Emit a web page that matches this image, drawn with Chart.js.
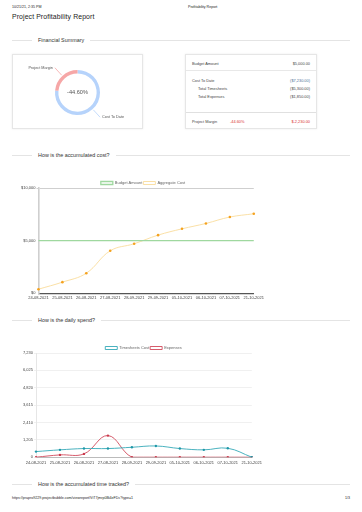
<!DOCTYPE html>
<html>
<head>
<meta charset="utf-8">
<script src="https://cdn.jsdelivr.net/npm/chart.js@4"></script>
<style>
  body { margin: 0; background: #fff; font-family: "Liberation Sans", Arial, sans-serif; color: #333; }
  .abs { position: absolute; white-space: nowrap; }
  .hdr { font-size: 3.6px; color: #222; }
  .title { font-size: 6.9px; color: #222; letter-spacing: 0.1px; }
  .sect { position: absolute; left: 12px; width: 338px; display: flex; align-items: center; font-size: 5.4px; color: #333; }
  .sect .ln { height: 1px; background: #e4e4e4; }
  .sect span { margin: 0 6px; }
  .card { position: absolute; border: 1px solid #e6e6e6; box-shadow: 0 0 2px rgba(0,0,0,0.08); background: #fff; }
  .row { position: absolute; left: 6px; right: 6px; font-size: 3.9px; color: #444; }
  .row .v { position: absolute; right: 0; top: 0; }
  .sep { position: absolute; left: 0; right: 0; height: 1px; background: #e8e8e8; }
</style>
</head>
<body>
<div class="abs hdr" style="left:12px;top:5px">10/21/21, 2:35 PM</div>
<div class="abs hdr" style="left:188px;top:5px">Profitability Report</div>
<div class="abs title" style="left:12px;top:13px">Project Profitability Report</div>

<div class="sect" style="top:37px"><div class="ln" style="width:20px"></div><span>Financial Summary</span><div class="ln" style="flex:1"></div></div>

<div class="card" style="left:12px;top:54px;width:129px;height:73px">
  <canvas id="marginChart"></canvas>
</div>

<div class="card" style="left:185px;top:54px;width:130px;height:73px">
  <div class="row" style="top:5.5px">Budget Amount<span class="v">$5,000.00</span></div>
  <div class="sep" style="top:15px"></div>
  <div class="row" style="top:22.5px">Cost To Date<span class="v" style="color:#4a6f96">($7,230.00)</span></div>
  <div class="row" style="top:30.5px;left:12px">Total Timesheets<span class="v">($5,300.00)</span></div>
  <div class="row" style="top:38.5px;left:12px">Total Expenses<span class="v">($1,850.00)</span></div>
  <div class="sep" style="top:57px;background:#e0e0e0"></div>
  <div class="row" style="top:64px">Project Margin<span style="position:absolute;left:38px;color:#d9302f">-44.60%</span><span class="v" style="color:#d9302f">$-2,230.00</span></div>
</div>

<div class="sect" style="top:152px"><div class="ln" style="width:20px"></div><span>How is the accumulated cost?</span><div class="ln" style="flex:1"></div></div>
<div class="abs" style="left:20px;top:180px;width:246px;height:122px"><canvas id="costChart"></canvas></div>

<div class="sect" style="top:317px"><div class="ln" style="width:20px"></div><span>How is the daily spend?</span><div class="ln" style="flex:1"></div></div>
<div class="abs" style="left:22px;top:345px;width:243px;height:123px"><canvas id="spendChart"></canvas></div>

<div class="sect" style="top:481px"><div class="ln" style="width:20px"></div><span>How is the accumulated time tracked?</span><div class="ln" style="flex:1"></div></div>

<div class="abs hdr" style="left:12px;top:496px">https://prapro9229.projectbubble.com/viewreport/ViT7jmrp0Bi4eFDc?type=1</div>
<div class="abs hdr" style="left:345px;top:496px">1/3</div>

<script>
// --- DATA ---
const dates = ['24-08-2021', '25-08-2021', '26-08-2021', '27-08-2021', '28-09-2021', '29-09-2021', '05-10-2021', '06-10-2021', '07-10-2021', '21-10-2021'];
const budgetAmount = [5000, 5000, 5000, 5000, 5000, 5000, 5000, 5000, 5000, 5000];
const aggregateCost = [380, 1050, 1900, 4030, 4700, 5520, 6120, 6630, 7240, 7550];
const timesheetsCost = [390, 510, 600, 600, 690, 780, 600, 510, 620, 0];
const expenses = [0, 160, 230, 1500, 0, 0, 0, 0, 0, 0];
const marginLabels = ['Cost To Date', 'Project Margin'];
const marginValues = [7230, 2230];
const marginText = '-44.60%';

const tickFont = { family: 'Liberation Sans', size: 4 };
Chart.defaults.font.family = 'Liberation Sans';
Chart.defaults.color = '#555';
Chart.defaults.animation = false;

// --- DOUGHNUT ---
const outsideLabels = {
    id: 'outsideLabels',
    afterDraw(chart) {
        const ctx = chart.ctx;
        const meta = chart.getDatasetMeta(0);
        ctx.save();
        meta.data.forEach((arc, i) => {
            const mid = (arc.startAngle + arc.endAngle) / 2;
            const r0 = arc.outerRadius + 1;
            const r1 = arc.outerRadius + 11;
            const x0 = arc.x + Math.cos(mid) * r0, y0 = arc.y + Math.sin(mid) * r0;
            const x1 = arc.x + Math.cos(mid) * r1, y1 = arc.y + Math.sin(mid) * r1;
            ctx.strokeStyle = chart.data.datasets[0].backgroundColor[i];
            ctx.lineWidth = 0.8;
            ctx.beginPath();
            ctx.moveTo(x0, y0);
            ctx.lineTo(x1, y1);
            ctx.stroke();
            ctx.fillStyle = '#555';
            ctx.font = '3.8px Liberation Sans';
            ctx.textBaseline = 'middle';
            const right = Math.cos(mid) >= 0;
            ctx.textAlign = right ? 'left' : 'right';
            ctx.fillText(chart.data.labels[i], x1 + (right ? 2 : -2), y1);
        });
        ctx.fillStyle = '#555';
        ctx.font = '5.6px Liberation Sans';
        ctx.textAlign = 'center';
        ctx.textBaseline = 'middle';
        ctx.fillText(marginText, meta.data[0].x, meta.data[0].y);
        ctx.restore();
    }
};

new Chart(document.getElementById('marginChart'), {
    type: 'doughnut',
    data: {
        labels: marginLabels,
        datasets: [{
            data: marginValues,
            backgroundColor: ['#b6d3fb', '#f6a7a7'],
            borderWidth: 0
        }]
    },
    options: {
        responsive: true,
        maintainAspectRatio: false,
        cutout: '85%',
        layout: { padding: { top: 15, bottom: 13 } },
        plugins: { legend: { display: false }, tooltip: { enabled: false } }
    },
    plugins: [outsideLabels]
});

// --- ACCUMULATED COST ---
new Chart(document.getElementById('costChart'), {
    type: 'line',
    data: {
        labels: dates,
        datasets: [
            {
                label: 'Budget Amount',
                data: budgetAmount,
                borderColor: '#9fd89f',
                backgroundColor: '#fff',
                borderWidth: 1.3,
                pointRadius: 0,
                fill: false
            },
            {
                label: 'Aggregate Cost',
                data: aggregateCost,
                borderColor: '#f9dc9c',
                backgroundColor: '#fff',
                borderWidth: 0.9,
                pointRadius: 1.3,
                pointBackgroundColor: '#f5a21f',
                pointBorderColor: '#f5a21f',
                pointBorderWidth: 0,
                tension: 0.4,
                fill: false
            }
        ]
    },
    options: {
        responsive: true,
        maintainAspectRatio: false,
        plugins: {
            legend: {
                maxHeight: 8,
                labels: { font: tickFont, boxWidth: 12, boxHeight: 3, padding: 1, color: '#666' }
            },
            tooltip: { enabled: false }
        },
        scales: {
            x: {
                grid: { display: false, drawTicks: false, tickLength: 0 },
                border: { color: '#555', width: 1.3 },
                ticks: { font: tickFont, color: '#444', maxRotation: 0, autoSkip: false, padding: 2 }
            },
            y: {
                min: 0,
                max: 10000,
                grid: {
                    color: (c) => c.tick && c.tick.value === 10000 ? '#cfcfcf' : 'rgba(0,0,0,0)',
                    lineWidth: 1,
                    tickLength: 2,
                    drawTicks: true
                },
                border: { color: '#cfcfcf', width: 1.6 },
                ticks: {
                    font: tickFont, color: '#444', stepSize: 5000, padding: 1,
                    callback: v => '$' + v.toLocaleString('en-US')
                }
            }
        }
    }
});

// --- DAILY SPEND ---
new Chart(document.getElementById('spendChart'), {
    type: 'line',
    data: {
        labels: dates,
        datasets: [
            {
                label: 'Timesheets Cost',
                data: timesheetsCost,
                borderColor: '#35a9b8',
                backgroundColor: '#fff',
                borderWidth: 0.9,
                pointRadius: 1.2,
                pointBackgroundColor: '#1f97a8',
                pointBorderWidth: 0,
                tension: 0.4,
                fill: false
            },
            {
                label: 'Expenses',
                data: expenses,
                borderColor: '#d14a5b',
                backgroundColor: '#fff',
                borderWidth: 0.9,
                pointRadius: 1.2,
                pointBackgroundColor: '#c93a4c',
                pointBorderWidth: 0,
                tension: 0.4,
                fill: false
            }
        ]
    },
    options: {
        responsive: true,
        maintainAspectRatio: false,
        plugins: {
            legend: {
                maxHeight: 8,
                labels: { font: tickFont, boxWidth: 12, boxHeight: 3, padding: 1, color: '#666' }
            },
            tooltip: { enabled: false }
        },
        scales: {
            x: {
                grid: { display: false, drawTicks: false, tickLength: 0 },
                border: { color: '#bbb', width: 1 },
                ticks: { font: tickFont, color: '#444', maxRotation: 0, autoSkip: false, padding: 3 }
            },
            y: {
                min: 0,
                max: 7230,
                grid: { color: '#ececec', lineWidth: 0.8, tickLength: 2 },
                border: { color: '#e6e6e6' },
                ticks: {
                    font: tickFont, color: '#444', stepSize: 1205, padding: 1,
                    callback: v => v.toLocaleString('en-US')
                }
            }
        }
    }
});
</script>
</body>
</html>
